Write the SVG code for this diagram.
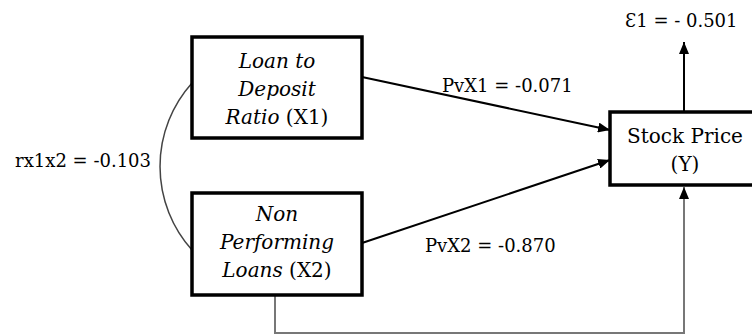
<svg xmlns="http://www.w3.org/2000/svg" width="752" height="336" viewBox="0 0 752 336">
<style>
.box{fill:#fff;stroke:#000;stroke-width:3.5}
.ln{fill:none;stroke:#000;stroke-width:2}
.gr{fill:none;stroke:#777;stroke-width:2}
</style>
<defs>
<marker id="ah" markerWidth="12" markerHeight="10" refX="12" refY="5" orient="auto" markerUnits="userSpaceOnUse">
<path d="M0,0 L12,5 L0,10 Z" fill="#000"/>
</marker>
</defs>
<rect width="752" height="336" fill="#fff"/>
<g id="connectors">
<path d="M192,83 A125,125 0 0,0 192,250" fill="none" stroke="#444" stroke-width="1.5"/>
<line class="ln" x1="362" y1="77" x2="610" y2="130" marker-end="url(#ah)"/>
<line class="ln" x1="362" y1="243" x2="610" y2="160" marker-end="url(#ah)"/>
<line class="ln" x1="684" y1="112" x2="684" y2="42" marker-end="url(#ah)"/>
<path class="gr" d="M275,296 L275,333 L684,333 L684,187" marker-end="url(#ah)"/>
<g font-family="'DejaVu Serif', serif" font-size="18" fill="#000">
<text x="442" y="92">PvX1 = -0.071</text>
<text x="425" y="252">PvX2 = -0.870</text>
<text x="625" y="27">Ɛ1 = - 0.501</text>
<text x="151" y="167" text-anchor="end">rx1x2 = -0.103</text>
</g>
</g>
<g id="x1" font-family="'DejaVu Serif', serif" font-size="20" text-anchor="middle" fill="#000">
<rect class="box" x="192" y="37" width="170" height="101"/>
<text x="277" y="68" font-style="italic">Loan to</text>
<text x="277" y="96" font-style="italic">Deposit</text>
<text x="277" y="124"><tspan font-style="italic">Ratio</tspan> (X1)</text>
</g>
<g id="x2" font-family="'DejaVu Serif', serif" font-size="20" text-anchor="middle" fill="#000">
<rect class="box" x="192" y="193" width="170" height="102"/>
<text x="277" y="221" font-style="italic">Non</text>
<text x="277" y="249" font-style="italic">Performing</text>
<text x="277" y="277"><tspan font-style="italic">Loans</tspan> (X2)</text>
</g>
<g id="y" font-family="'DejaVu Serif', serif" font-size="20" text-anchor="middle" fill="#000">
<rect class="box" x="610" y="112" width="152" height="73"/>
<text x="685" y="143">Stock Price</text>
<text x="685" y="171">(Y)</text>
</g>
</svg>
